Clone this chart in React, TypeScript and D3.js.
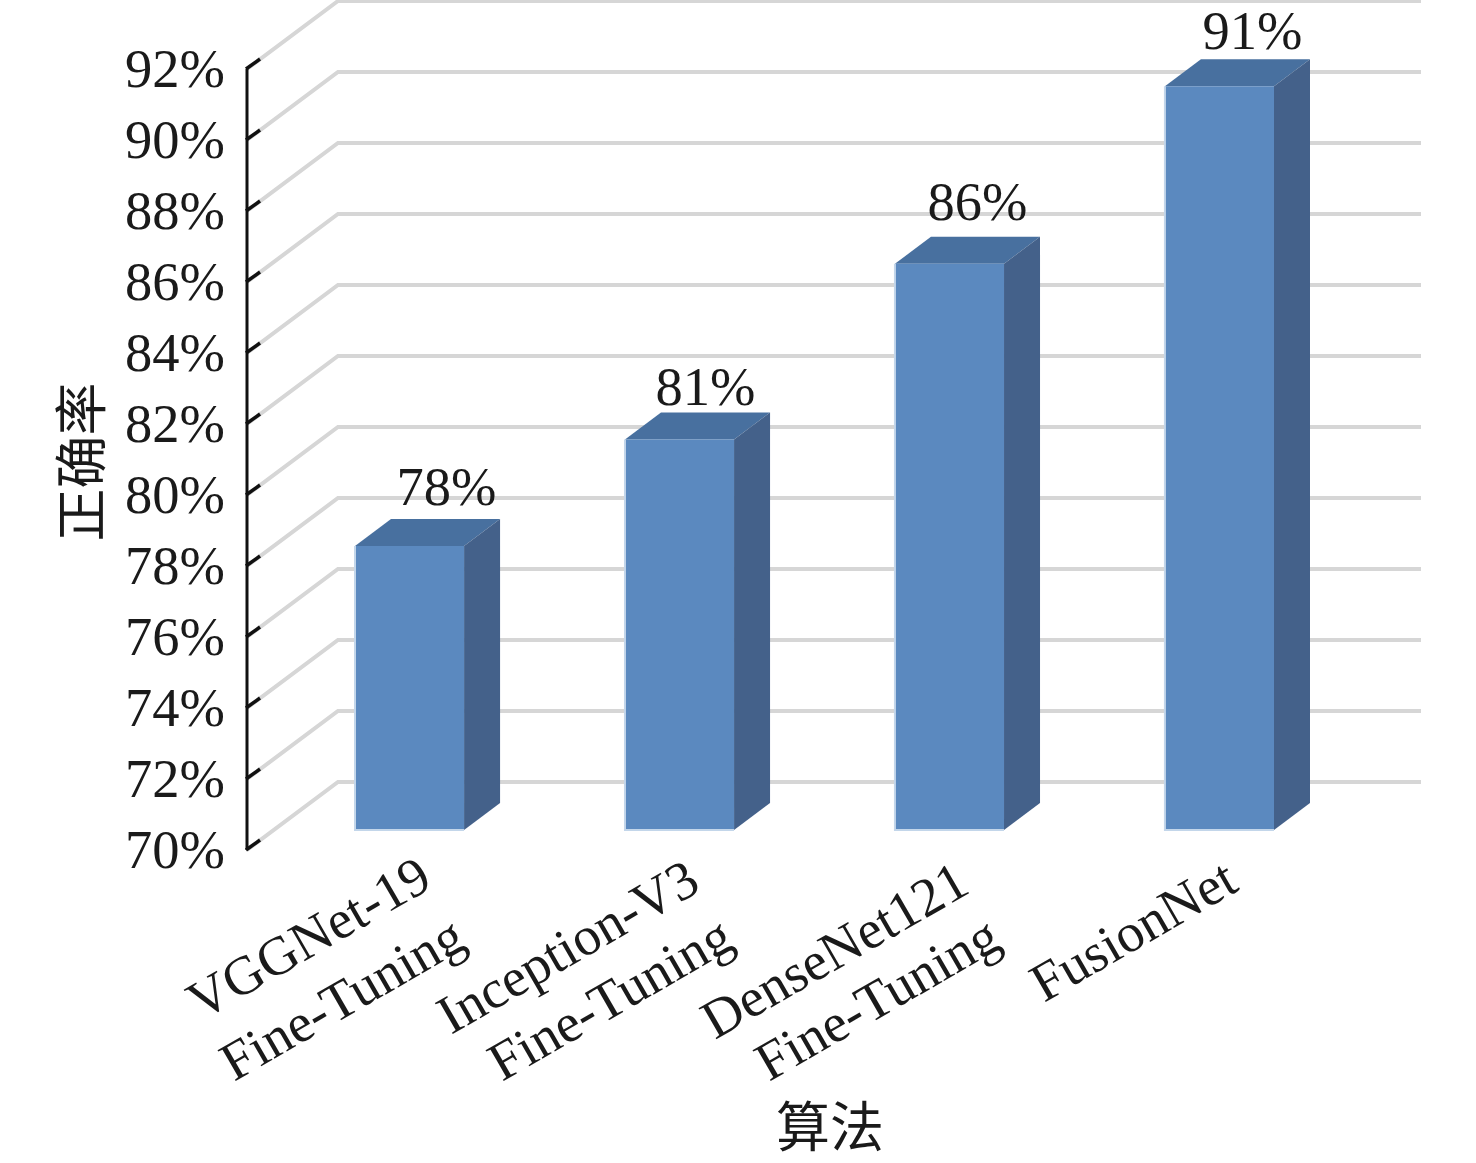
import React from "react";
import * as d3 from "d3";

const categories = ["VGGNet-19\nFine-Tuning", "Inception-V3\nFine-Tuning", "DenseNet121\nFine-Tuning", "FusionNet"];
const accuracy = [78, 81, 85.95, 90.95];
const yTickValues = d3.range(70, 93, 2);
const yTitle = "正确率";
const xTitle = "算法";

// layout (not data)
const W = 1476, H = 1163;
const axisX = 247;
const wallDx = 91, wallDy = -68;
const barDx = 36, barDy = -27;
const barPlaneDy = -20;
const gridRight = 1421;
const labelNudge: [number, number][] = [[37, -41], [26, -35], [28, -44], [33, -37]];
const catOrigins: [number, number][][] = [
  [[201, 1021], [234, 1082]],
  [[451, 1035], [502, 1082]],
  [[715, 1040], [769, 1082]],
  [[1044, 1003]],
];
const serif = "'Liberation Serif', serif";
const cjk = "'Noto Sans CJK SC', sans-serif";
const fs = 54.5;

export default function App() {
  const y = d3.scaleLinear().domain([70, 92]).range([850, 69]);
  const x = d3.scaleBand<string>().domain(categories).range([355, 1274]).paddingInner(0.596).paddingOuter(0);
  const bw = x.bandwidth();
  const line = d3.line();
  const poly = (p: [number, number][]) => line(p)! + "Z";
  return (
    <svg width={W} height={H} viewBox={`0 0 ${W} ${H}`} style={{ position: "absolute", left: 0, top: 0, background: "#fff" }}>
      <g fill="none" stroke="#d6d6d6" strokeWidth={4}>
        {yTickValues.map(v => (
          <path key={v} d={line([[axisX, y(v)], [axisX + wallDx, y(v) + wallDy], [gridRight, y(v) + wallDy]])!} />
        ))}
      </g>
      <line x1={axisX} x2={axisX} y1={y(92)} y2={y(70)} stroke="#111" strokeWidth={3} />
      {yTickValues.map(v => (
        <g key={v}>
          <line x1={axisX - 1} x2={axisX + 13} y1={y(v)} y2={y(v) - 10} stroke="#111" strokeWidth={3.5} />
          <text x={225} y={y(v) + 18} textAnchor="end" fontFamily={serif} fontSize={fs} fill="#1a1a1a">{v}%</text>
        </g>
      ))}
      {categories.map((c, i) => {
        const x0 = x(c)!, x1 = x0 + bw;
        const yb = y(70) + barPlaneDy, yt = y(accuracy[i]) + barPlaneDy;
        return (
          <g key={c}>
            <path d={poly([[x0, yt], [x0 + barDx, yt + barDy], [x1 + barDx, yt + barDy], [x1, yt]])} fill="#48709f" />
            <path d={poly([[x1, yt], [x1 + barDx, yt + barDy], [x1 + barDx, yb + barDy], [x1, yb]])} fill="#44618a" />
            <rect x={x0} y={yt} width={bw} height={yb - yt} fill="#5b89bf" />
            <path d={line([[x0, yt], [x0, yb], [x1, yb]])!} fill="none" stroke="#c3d6ea" strokeWidth={2} />
            <text x={x0 + bw / 2 + labelNudge[i][0]} y={yt + labelNudge[i][1]} textAnchor="middle" fontFamily={serif} fontSize={fs} fill="#1a1a1a">
              {d3.format(".0f")(accuracy[i])}%
            </text>
            {c.split("\n").map((t, k) => (
              <text key={k} transform={`translate(${catOrigins[i][k][0]},${catOrigins[i][k][1]}) rotate(-30)`} fontFamily={serif} fontSize={fs} fill="#1a1a1a">{t}</text>
            ))}
          </g>
        );
      })}
      <text transform="translate(101,462) rotate(-90)" textAnchor="middle" fontFamily={cjk} fontSize={53} fill="#1a1a1a">{yTitle}</text>
      <text x={830} y={1147} textAnchor="middle" fontFamily={cjk} fontSize={54} fill="#1a1a1a">{xTitle}</text>
    </svg>
  );
}
